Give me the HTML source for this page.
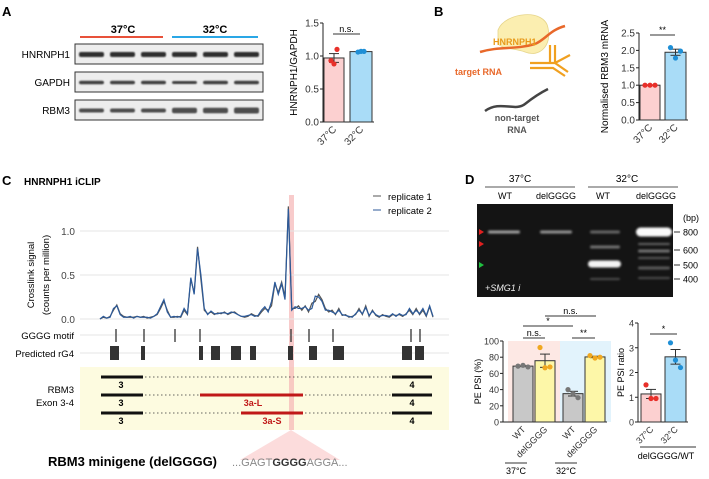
<!DOCTYPE html>
<html><head><meta charset="utf-8"><style>
body{margin:0;background:#fff}
svg{display:block;font-family:"Liberation Sans",Arial,sans-serif}
</style></head><body>
<svg id="fig" width="709" height="479" viewBox="0 0 709 479">
<defs>
<filter id="blur1" x="-20%" y="-100%" width="140%" height="300%"><feGaussianBlur stdDeviation="1"/></filter>
<filter id="blur2" x="-20%" y="-100%" width="140%" height="300%"><feGaussianBlur stdDeviation="0.7"/></filter>
</defs>
<!-- Panel A -->
<text x="2" y="16" font-size="13" font-weight="bold">A</text>
<text x="123" y="33" font-size="11" font-weight="bold" text-anchor="middle">37°C</text>
<text x="215" y="33" font-size="11" font-weight="bold" text-anchor="middle">32°C</text>
<line x1="80" y1="37" x2="163" y2="37" stroke="#e8513a" stroke-width="2"/>
<line x1="172" y1="37" x2="258" y2="37" stroke="#2aa7e6" stroke-width="2"/>
<g id="blots"></g>
<g id="chartA"></g>
<!-- Panel B -->
<text x="434" y="16" font-size="13" font-weight="bold">B</text>
<g>
<path d="M498,30 C505,12 545,8 548,28 C552,45 540,58 525,52 C515,48 505,50 498,44 Z" fill="#fbeeb0" stroke="#e6d58a" stroke-width="0.8"/>
<path d="M480,52 C500,46 515,50 535,44 C545,40 550,30 565,26" fill="none" stroke="#e8682a" stroke-width="2.5"/>
<text x="493" y="45" font-size="9" fill="#e89a1a" font-weight="bold">HNRNPH1</text>
<path d="M550,45 L550,62 M555,45 L555,62 M530,63 L555,63 L568,72 M530,68 L553,68 L565,76 M555,63 L570,55" stroke="#f0a020" stroke-width="2.2" fill="none"/>
<text x="455" y="75" font-size="9" fill="#e8682a" font-weight="bold">target RNA</text>
<path d="M485,111 C500,100 515,112 525,104 C535,96 542,92 548,89" fill="none" stroke="#444" stroke-width="2.5"/>
<text x="517" y="121" font-size="9" fill="#555" font-weight="bold" text-anchor="middle">non-target</text>
<text x="517" y="133" font-size="9" fill="#555" font-weight="bold" text-anchor="middle">RNA</text>
</g>
<g id="chartB"></g>
<!-- Panel C -->
<text x="2" y="185" font-size="13" font-weight="bold">C</text>
<text x="24" y="185" font-size="10" font-weight="bold">HNRNPH1 iCLIP</text>
<rect x="80" y="367" width="369" height="63" fill="#fdfbe0"/>
<rect x="289" y="195" width="5" height="235" fill="#f5b5b5" opacity="0.7"/>
<polygon points="291,430 240,460 340,460" fill="#fbd3d3" opacity="0.8"/>
<g id="chartC"></g>
<text x="48" y="466" font-size="13" font-weight="bold">RBM3 minigene (delGGGG)</text>
<text x="232" y="466" font-size="11" fill="#888">...GAGT<tspan font-weight="bold" fill="#333">GGGG</tspan>AGGA...</text>
<!-- Panel D -->
<text x="465" y="184" font-size="13" font-weight="bold">D</text>
<g id="gel"></g>
<g id="chartD1"></g>
<g id="chartD2"></g>
</svg>
<script>
const NS="http://www.w3.org/2000/svg";
function mk(p,t,a,txt){const e=document.createElementNS(NS,t);for(const k in a)e.setAttribute(k,a[k]);if(txt!==undefined)e.textContent=txt;p.appendChild(e);return e;}

// ---- data ----
const aCats=["37°C","32°C"];
const aPts37=[0.93,0.88,1.1];
const aPts32=[1.06,1.07,1.07];
const aTicks=[0,0.5,1.0,1.5];
const bCats=["37°C","32°C"];
const bPts37=[1,1,1];
const bPts32=[2.08,1.78,1.98];
const bTicks=[0,0.5,1.0,1.5,2.0,2.5];
const cRep1=[0,0.02,0.01,0.03,0.1,0.16,0.06,0.03,0.02,0.02,0.02,0.03,0.02,0.03,0.01,0.02,0.03,0.05,0.12,0.2,0.1,0.02,0.02,0.03,0.02,0.1,0.05,0.45,0.3,0.82,0.45,0.1,0.06,0.08,0.05,0.07,0.06,0.08,0.05,0.07,0.08,0.05,0.03,0.02,0.03,0.06,0.04,0.03,0.08,0.12,0.1,0.15,0.4,0.3,0.42,0.25,1.28,0.12,0.12,0.15,0.1,0.15,0.08,0.18,0.2,0.28,0.22,0.12,0.08,0.1,0.05,0.12,0.04,0.05,0.02,0.03,0.05,0.12,0.05,0.15,0.03,0.1,0.04,0.02,0.05,0.03,0.02,0.05,0.04,0.05,0.03,0.06,0.1,0.05,0.12,0.05,0.1,0.03,0.14,0.02];
const cRep2=[0,0.03,0.01,0.02,0.12,0.15,0.05,0.02,0.02,0.03,0.01,0.03,0.02,0.02,0.02,0.01,0.03,0.06,0.14,0.22,0.08,0.02,0.03,0.02,0.03,0.12,0.06,0.47,0.28,0.8,0.5,0.12,0.05,0.09,0.06,0.06,0.07,0.07,0.06,0.08,0.07,0.05,0.03,0.03,0.04,0.05,0.03,0.04,0.1,0.14,0.08,0.2,0.42,0.28,0.4,0.22,1.25,0.1,0.14,0.12,0.12,0.14,0.1,0.12,0.26,0.25,0.2,0.1,0.1,0.08,0.06,0.1,0.05,0.04,0.03,0.02,0.06,0.1,0.06,0.13,0.04,0.09,0.05,0.03,0.04,0.04,0.03,0.06,0.03,0.06,0.04,0.05,0.12,0.06,0.1,0.06,0.12,0.04,0.15,0.03];
const cTicks=[0,0.5,1.0];
const motifPos=[116,144,175,200,291,309,333,411,420];
const rg4Start=[110,141,199,211,231,250,288,309,333,402,415];
const rg4End=[119,145,203,220,241,256,293,317,344,412,424];
const dCats=["WT","delGGGG","WT","delGGGG"];
const dPts=[[69,70,68],[92,67,68],[40,35,30],[82,79,80]];
const dTicks=[0,20,40,60,80,100];
const rCats=["37°C","32°C"];
const rPts=[[1.5,0.95,0.95],[3.2,2.5,2.2]];
const rTicks=[0,1,2,3,4];

const mean=a=>a.reduce((s,v)=>s+v,0)/a.length;
const sem=a=>{const m=mean(a);return Math.sqrt(a.reduce((s,v)=>s+(v-m)*(v-m),0)/(a.length-1))/Math.sqrt(a.length);};

// ---- blots ----
const blots=document.getElementById('blots');
const blotRows=[["HNRNPH1",44,[4,4,4,4,4,4],"#111"],["GAPDH",72,[2.5,2.5,2.5,2,2.5,2.5],"#222"],["RBM3",100,[3,3,3,4.5,4.5,5],"#333"]];
blotRows.forEach(r=>{
  const t=mk(blots,'text',{x:70,y:r[1]+14,'font-size':10,'text-anchor':'end'},r[0]);
  
  
  const b=mk(blots,'rect',{x:75,y:r[1],width:188,height:20,fill:'#ededed',stroke:'#333','stroke-width':1});
  
  
  for(let i=0;i<6;i++){mk(blots,'rect',{x:79+i*31,y:r[1]+10-r[2][i]/2,width:25,height:r[2][i]+1,fill:r[3],rx:2,opacity:0.85,filter:'url(#blur2)'});}
});

// ---- generic bar chart ----
function barChart(g,o){
  const y=v=>o.y0-(v-o.ymin)/(o.ymax-o.ymin)*(o.y0-o.y1);
  mk(g,'line',{x1:o.ax,y1:o.y0,x2:o.ax,y2:o.y1,stroke:'#222','stroke-width':1});
  o.ticks.forEach(t=>{
    mk(g,'line',{x1:o.ax-3,y1:y(t),x2:o.ax,y2:y(t),stroke:'#222'});
    const tl=mk(g,'text',{x:o.ax-4,y:y(t)+3.5,'font-size':o.fs||10,'text-anchor':'end',fill:'#333'},o.fmt?o.fmt(t):t);
    
    
  });
  mk(g,'line',{x1:o.ax,y1:o.y0,x2:o.bx[o.bx.length-1][1]+2,y2:o.y0,stroke:'#222'});
  o.pts.forEach((p,i)=>{
    const m=mean(p),s=sem(p),bx=o.bx[i];
    const bar=mk(g,'rect',{x:bx[0],y:y(m),width:bx[1]-bx[0],height:o.y0-y(m),fill:o.fill[i],stroke:'#333','stroke-width':1});
    
    
    const cx=(bx[0]+bx[1])/2;
    mk(g,'line',{x1:cx,y1:y(m+s),x2:cx,y2:y(m-s),stroke:'#333'});
    mk(g,'line',{x1:cx-5,y1:y(m+s),x2:cx+5,y2:y(m+s),stroke:'#333'});
    mk(g,'line',{x1:cx-5,y1:y(m-s),x2:cx+5,y2:y(m-s),stroke:'#333'});
    const jit=o.jit||5;
    p.forEach((v,j)=>{
      const d=mk(g,'circle',{cx:cx+(j-1)*jit,cy:y(v),r:2.6,fill:o.dot[i]});
      
      
    });
    const lx=cx+3,ly=o.y0+8;
    const lab=mk(g,'text',{x:lx,y:ly,'font-size':o.fs||10,'text-anchor':'end',transform:`rotate(-45 ${lx} ${ly})`,fill:'#333'},o.cats[i]);
    
    
  });
  const yl=mk(g,'text',{x:o.ylx,y:(o.y0+o.y1)/2,'font-size':o.fs||10,'text-anchor':'middle',transform:`rotate(-90 ${o.ylx} ${(o.y0+o.y1)/2})`},o.ylabel);
  
  
  (o.sig||[]).forEach(sg=>{
    mk(g,'line',{x1:sg[0],y1:sg[2],x2:sg[1],y2:sg[2],stroke:'#333'});
    const st=mk(g,'text',{x:(sg[0]+sg[1])/2,y:sg[2]-2,'font-size':9,'text-anchor':'middle'},sg[3]);
    
    
  });
  return y;
}
barChart(document.getElementById('chartA'),{ax:323,y0:122,y1:23,ymin:0,ymax:1.5,ticks:aTicks,fmt:t=>t.toFixed(1),jit:3,
  bx:[[324,344],[350,372]],pts:[aPts37,aPts32],fill:['#fcd0d0','#a9dcf7'],dot:['#e8302a','#1f8fd6'],cats:aCats,ylabel:'HNRNPH1/GAPDH',ylx:297,sig:[[333,360,34,'n.s.']]});
barChart(document.getElementById('chartB'),{ax:639,y0:120,y1:33,ymin:0,ymax:2.5,ticks:bTicks,fmt:t=>t.toFixed(1),
  bx:[[640,660],[665,686]],pts:[bPts37,bPts32],fill:['#fcd0d0','#a9dcf7'],dot:['#e8302a','#1f8fd6'],cats:bCats,ylabel:'Normalised RBM3 mRNA',ylx:608,sig:[[650,675,35,'**']]});

// ---- panel C ----
(function(){
  const g=document.getElementById('chartC');
  const y=v=>319-v*88, x=i=>100+i*(333/(cRep1.length-1));
  cTicks.forEach(t=>{
    mk(g,'line',{x1:80,y1:y(t),x2:449,y2:y(t),stroke:'#e4e4e4'});
    const tl=mk(g,'text',{x:75,y:y(t)+4,'font-size':10,'text-anchor':'end',fill:'#444'},t.toFixed(1));
    
    
  });
  mk(g,'line',{x1:80,y1:335,x2:449,y2:335,stroke:'#e4e4e4'});
  mk(g,'line',{x1:80,y1:353,x2:449,y2:353,stroke:'#e4e4e4'});
  const l1=mk(g,'polyline',{points:cRep1.map((v,i)=>x(i)+','+y(v)).join(' '),fill:'none',stroke:'#555','stroke-width':1.2});
  
  
  const l2=mk(g,'polyline',{points:cRep2.map((v,i)=>x(i)+','+y(v)).join(' '),fill:'none',stroke:'#2c5a9a','stroke-width':1.2});
  
  
  const yt=mk(g,'text',{x:34,y:275,'font-size':9.5,'text-anchor':'middle',transform:'rotate(-90 34 275)'},'Crosslink signal');
  
  
  mk(g,'text',{x:49,y:275,'font-size':9.5,'text-anchor':'middle',transform:'rotate(-90 49 275)'},'(counts per million)');
  mk(g,'line',{x1:373,y1:196,x2:381,y2:196,stroke:'#555'});
  mk(g,'text',{x:388,y:200,'font-size':9.5},'replicate 1');
  mk(g,'line',{x1:373,y1:210,x2:381,y2:210,stroke:'#2c5a9a'});
  mk(g,'text',{x:388,y:214,'font-size':9.5},'replicate 2');
  mk(g,'text',{x:74,y:339,'font-size':9.5,'text-anchor':'end'},'GGGG motif');
  mk(g,'text',{x:74,y:357,'font-size':9.5,'text-anchor':'end'},'Predicted rG4');
  motifPos.forEach(p=>{const m=mk(g,'line',{x1:p,y1:329,x2:p,y2:342,stroke:'#333','stroke-width':1.3});});
  rg4Start.forEach((s,i)=>{const r=mk(g,'rect',{x:s,y:346,width:rg4End[i]-s,height:14,fill:'#333'});});
  mk(g,'text',{x:74,y:393,'font-size':9.5,'text-anchor':'end'},'RBM3');
  mk(g,'text',{x:74,y:406,'font-size':9.5,'text-anchor':'end'},'Exon 3-4');
  [377,395,413].forEach((ty,k)=>{
    mk(g,'line',{x1:101,y1:ty,x2:432,y2:ty,stroke:'#333','stroke-width':0.8,'stroke-dasharray':'1.5,2.5'});
    mk(g,'line',{x1:101,y1:ty,x2:143,y2:ty,stroke:'#111','stroke-width':3});
    mk(g,'line',{x1:392,y1:ty,x2:432,y2:ty,stroke:'#111','stroke-width':3});
    mk(g,'text',{x:121,y:ty+11,'font-size':9,'font-weight':'bold','text-anchor':'middle'},'3');
    mk(g,'text',{x:412,y:ty+11,'font-size':9,'font-weight':'bold','text-anchor':'middle'},'4');
  });
  mk(g,'line',{x1:200,y1:395,x2:303,y2:395,stroke:'#c01818','stroke-width':3});
  mk(g,'text',{x:253,y:406,'font-size':9,'font-weight':'bold','fill':'#c01818','text-anchor':'middle'},'3a-L');
  mk(g,'line',{x1:241,y1:413,x2:303,y2:413,stroke:'#c01818','stroke-width':3});
  mk(g,'text',{x:272,y:424,'font-size':9,'font-weight':'bold','fill':'#c01818','text-anchor':'middle'},'3a-S');
})();

// ---- gel ----
(function(){
  const g=document.getElementById('gel');
  mk(g,'text',{x:520,y:182,'font-size':10,'text-anchor':'middle'},'37°C');
  mk(g,'text',{x:627,y:182,'font-size':10,'text-anchor':'middle'},'32°C');
  mk(g,'line',{x1:485,y1:187,x2:575,y2:187,stroke:'#555'});
  mk(g,'line',{x1:588,y1:187,x2:678,y2:187,stroke:'#555'});
  [[505,'WT'],[556,'delGGGG'],[603,'WT'],[656,'delGGGG']].forEach(l=>mk(g,'text',{x:l[0],y:199,'font-size':9,'text-anchor':'middle'},l[1]));
  mk(g,'rect',{x:477,y:204,width:196,height:93,fill:'#141414'});
  const band=(x,y,w,h,o)=>mk(g,'rect',{x:x,y:y-h/2,width:w,height:h,rx:h/2,fill:'#fff',opacity:o,filter:'url(#blur1)'});
  band(488,232,32,3,0.6);band(540,232,32,3,0.55);
  band(590,232,30,3,0.35);band(590,247,30,3,0.4);band(588,264,33,7,0.95);band(590,279,30,2,0.25);
  band(636,232,36,9,0.98);band(638,244,32,2,0.35);band(638,251,32,3,0.4);band(638,258,32,2,0.3);band(638,268,32,3,0.3);band(638,278,32,2,0.25);
  mk(g,'polygon',{points:'479,229 484,232 479,235',fill:'#e02020'});
  mk(g,'polygon',{points:'479,241 484,244 479,247',fill:'#e02020'});
  mk(g,'polygon',{points:'479,262 484,265 479,268',fill:'#20c040'});
  mk(g,'text',{x:485,y:291,'font-size':9,fill:'#eee','font-style':'italic'},'+SMG1 i');
  mk(g,'text',{x:683,y:221,'font-size':9},'(bp)');
  [[232,'800'],[250,'600'],[265,'500'],[279,'400']].forEach(m=>{mk(g,'line',{x1:674,y1:m[0],x2:680,y2:m[0],stroke:'#333'});mk(g,'text',{x:683,y:m[0]+3.5,'font-size':9},m[1]);});
})();

// ---- PE PSI ----
(function(){
  const g=document.getElementById('chartD1');
  mk(g,'rect',{x:508,y:341,width:52,height:81,fill:'#fde8e4'});
  mk(g,'rect',{x:560,y:341,width:51,height:81,fill:'#e2f3fc'});
  barChart(g,{ax:503,y0:422,y1:341,ymin:0,ymax:100,ticks:dTicks,fs:9,bx:[[513,533],[535,555],[563,583],[585,605]],pts:dPts,
    fill:['#c8c8c8','#fdf7a8','#c8c8c8','#fdf7a8'],dot:['#777','#f0a820','#777','#f0a820'],cats:dCats,ylabel:'PE PSI (%)',ylx:481,
    sig:[[523,545,338,'n.s.'],[572,595,338,'**'],[523,573,326,'*'],[545,596,316,'n.s.']]});
  mk(g,'line',{x1:505,y1:463,x2:527,y2:463,stroke:'#333'});
  mk(g,'text',{x:516,y:474,'font-size':9,'text-anchor':'middle'},'37°C');
  mk(g,'line',{x1:555,y1:463,x2:577,y2:463,stroke:'#333'});
  mk(g,'text',{x:566,y:474,'font-size':9,'text-anchor':'middle'},'32°C');
})();
(function(){
  const g=document.getElementById('chartD2');
  barChart(g,{ax:638,y0:422,y1:323,ymin:0,ymax:4,ticks:rTicks,fs:9,bx:[[641,661],[665,686]],pts:rPts,
    fill:['#fcd0d0','#a9dcf7'],dot:['#e8302a','#1f8fd6'],cats:rCats,ylabel:'PE PSI ratio',ylx:624,sig:[[650,677,334,'*']]});
  mk(g,'line',{x1:640,y1:447,x2:696,y2:447,stroke:'#333'});
  mk(g,'text',{x:666,y:459,'font-size':9,'text-anchor':'middle'},'delGGGG/WT');
})();
</script>
</body></html>
